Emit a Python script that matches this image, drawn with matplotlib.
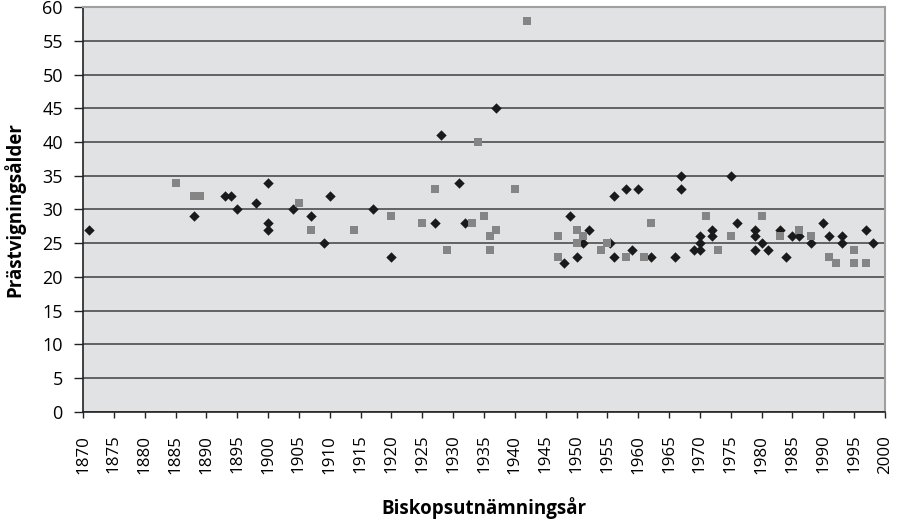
import numpy as np
import matplotlib
matplotlib.use('Agg')
import matplotlib.pyplot as plt

plt.rcParams['font.family'] = ['Open Sans', 'DejaVu Sans']

# black diamonds
diamond_year = [1871, 1888, 1893, 1894, 1895, 1898, 1900, 1900, 1900, 1904, 1907, 1909, 1910,
                1917, 1920, 1927, 1928, 1931, 1932, 1937,
                1948, 1949, 1950, 1951, 1952, 1955.4, 1956, 1956, 1958, 1959, 1960, 1962,
                1966, 1967, 1967, 1969, 1970, 1970, 1970, 1972, 1972, 1975, 1976,
                1979, 1979, 1979, 1980, 1981, 1983, 1984, 1985, 1986, 1988, 1990, 1991,
                1993, 1993, 1997, 1998]
diamond_age = [27, 29, 32, 32, 30, 31, 34, 28, 27, 30, 29, 25, 32,
               30, 23, 28, 41, 34, 28, 45,
               22, 29, 23, 25, 27, 25, 32, 23, 33, 24, 33, 23,
               23, 35, 33, 24, 24, 25, 26, 27, 26, 35, 28,
               27, 26, 24, 25, 24, 27, 23, 26, 26, 25, 28, 26,
               26, 25, 27, 25]

# gray squares
square_year = [1885, 1888, 1889, 1905, 1907, 1914, 1920, 1925, 1927, 1929, 1933, 1934, 1935,
               1936, 1936, 1937, 1940, 1942, 1947, 1947, 1950, 1950, 1951, 1954, 1955,
               1958, 1961, 1962, 1971, 1973, 1975, 1980, 1983, 1986, 1988, 1991, 1992,
               1995, 1995, 1997]
square_age = [34, 32, 32, 31, 27, 27, 29, 28, 33, 24, 28, 40, 29,
              26, 24, 27, 33, 58, 26, 23, 27, 25, 26, 24, 25,
              23, 23, 28, 29, 24, 26, 29, 26, 27, 26, 23, 22,
              24, 22, 22]

x_ticks = list(range(1870, 2001, 5))
y_ticks = list(range(0, 61, 5))

fig = plt.figure(figsize=(9.01, 5.19), dpi=100)
ax = fig.add_axes([0.0921, 0.2067, 0.8901, 0.7793])
ax.set_facecolor('#e1e2e4')

ax.scatter(diamond_year, diamond_age, marker='D', s=28, color='#1a1a1a', zorder=3, linewidths=0)
ax.scatter(square_year, square_age, marker='s', s=34, color='#858585', zorder=4, linewidths=0)

ax.set_xlim(1870, 2000)
ax.set_ylim(0, 60)
ax.set_xticks(x_ticks)
ax.set_yticks(y_ticks)
ax.set_xticklabels([str(y) for y in x_ticks], rotation=90, fontsize=12.2)
ax.set_yticklabels([str(v) for v in y_ticks], fontsize=13)
ax.yaxis.grid(True, color='#404040', linewidth=1.1)
ax.set_axisbelow(True)

ax.tick_params(axis='x', direction='out', length=4.5, width=1, color='#222222', pad=12)
ax.tick_params(axis='y', direction='out', length=6.5, width=1, color='#222222', pad=8)
for side in ['left', 'bottom']:
    ax.spines[side].set_color('#222222')
    ax.spines[side].set_linewidth(1.2)
for side in ['top', 'right']:
    ax.spines[side].set_color('#a0a0a0')
    ax.spines[side].set_linewidth(1.5)

ax.set_ylabel('Prästvigningsålder', fontsize=13.5, fontweight='bold', labelpad=12)
ax.set_xlabel('Biskopsutnämningsår', fontsize=13.5, fontweight='bold', labelpad=17)

fig.savefig('out.png', dpi=100)
